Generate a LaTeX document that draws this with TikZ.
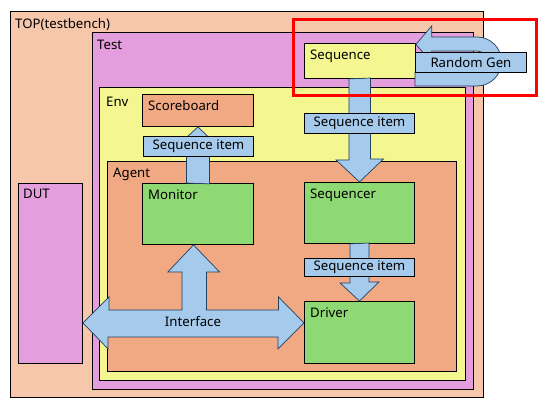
\documentclass[tikz,border=0pt]{standalone}
\usepackage{fontspec}
\setmainfont{Noto Sans}
\usepackage{xcolor}
\usepackage{tikz}
\usetikzlibrary{positioning, calc}

\definecolor{topc}{HTML}{F7C7AC}
\definecolor{testc}{HTML}{E49EDD}
\definecolor{envc}{HTML}{F4F68F}
\definecolor{agentc}{HTML}{F1A983}
\definecolor{greenc}{HTML}{8ED973}
\definecolor{itemc}{HTML}{A6CAEC}
\definecolor{arrowc}{HTML}{23405E}

\begin{document}
\begin{tikzpicture}[x=1pt, y=-1pt,
  box/.style={draw, line width=0.9pt, anchor=north west, inner sep=0pt},
  lbl/.style={anchor=north west, inner sep=0pt, text height=9pt,
              font=\fontsize{13.2}{15}\selectfont},
  item/.style={draw, line width=0.9pt, fill=itemc, anchor=north west, inner sep=0pt,
               minimum width=110pt, minimum height=20pt,
               font=\fontsize{13.2}{15}\selectfont},
  blk/.style={draw=arrowc, fill=itemc, line width=0.7pt, line join=miter},
]
  \useasboundingbox (0,0) rectangle (545,406);

  % Nested frames
  \node[box, fill=topc, minimum width=473pt, minimum height=386pt] (top) at (10,11) {};
  \node[lbl, below right=8pt and 5pt of top.north west] (topl) {TOP(testbench)};
  \node[box, fill=testc, minimum width=64pt, minimum height=180pt] (dut) at (18,183) {};
  \node[lbl, below right=6pt and 5pt of dut.north west] (dutl) {DUT};
  \node[box, fill=testc, minimum width=381pt, minimum height=357pt] (test) at (92,32) {};
  \node[lbl, below right=8pt and 5pt of test.north west] (testl) {Test};
  \node[box, fill=envc, minimum width=366pt, minimum height=293pt] (env) at (99,87) {};
  \node[lbl, below right=10pt and 7pt of env.north west] (envl) {Env};
  \node[box, fill=agentc, minimum width=349pt, minimum height=210pt] (agent) at (107,161) {};
  \node[lbl, below right=7pt and 6pt of agent.north west] (agentl) {Agent};

  % Components
  \node[box, fill=agentc, minimum width=111pt, minimum height=32pt] (sb) at (142,94) {};
  \node[lbl, below right=7pt and 6pt of sb.north west] (sbl) {Scoreboard};
  \node[box, fill=greenc, minimum width=111pt, minimum height=61pt] (mon) at (142,183) {};
  \node[lbl, below right=7pt and 6pt of mon.north west] (monl) {Monitor};
  \node[box, fill=envc, minimum width=111pt, minimum height=35pt] (seq) at (304,43) {};
  \node[lbl, below right=7pt and 6pt of seq.north west] (seql) {Sequence};
  \node[box, fill=greenc, minimum width=110pt, minimum height=61pt] (sqr) at (304,182) {};
  \node[lbl, below right=7pt and 6pt of sqr.north west] (sqrl) {Sequencer};
  \node[box, fill=greenc, minimum width=110pt, minimum height=62pt] (drv) at (304,301) {};
  \node[lbl, below right=7pt and 6pt of drv.north west] (drvl) {Driver};

  % Block arrows
  \draw[blk] ($(seq.south)+(-11,0)$) -- ++(0,81) -- ++(-13,0) -- (sqr.north)
    -- ++(24,-23) -- ++(-13,0) -- ++(0,-81) -- cycle;
  \draw[blk] ($(sqr.south)+(-9.5,0)$) -- ++(0,39) -- ++(-10,0) -- (drv.north)
    -- ++(19.5,-19) -- ++(-10,0) -- ++(0,-39) -- cycle;
  \draw[blk] ($(mon.north)+(-11.5,0)$) -- ++(0,-34) -- ++(-12.5,0) -- (sb.south)
    -- ++(24,23) -- ++(-12.5,0) -- ++(0,34) -- cycle;

  % Interface
  \coordinate (ifl) at ($(dut.south east)+(0,-41)$);
  \coordinate (ifr) at ($(drv.south west)+(0,-41)$);
  \draw[blk] (ifl) -- ++(26,-26) -- ++(0,13) -- ++(73,0) -- ++(0,-38) -- ++(-14,0)
    -- ($(mon.south)+(-4.5,0)$) -- ++(26,27) -- ++(-13,0) -- ++(0,38) -- ++(72,0)
    -- ++(0,-13) -- (ifr) -- ++(-26,26) -- ++(0,-12) -- ++(-170,0) -- ++(0,12) -- cycle;
  \node[font=\fontsize{13.2}{15}\selectfont, inner sep=0pt] (ifll) at (193,322) {Interface};

  % Random generator loop
  \coordinate (rgtip) at ($(seq.east)+(0,-16.5)$);
  \draw[blk] (415,72) -- (477,72) arc[start angle=-90, end angle=90, radius=10.5pt]
    -- (431.7,51) -- (431.7,62) -- (rgtip) -- (431.7,26) -- (431.7,37)
    -- (477,37) arc[start angle=90, end angle=-90, radius=24.5pt] -- (415,86) -- cycle;
  \node[item, minimum width=111pt] (rg) at (415,52) {Random Gen};

  % Sequence items
  \node[item] (si1) at (143,136) {Sequence item};
  \node[item] (si2) at (304,113) {Sequence item};
  \node[item, minimum height=18pt] (si3) at (304,258) {Sequence item};

  % Highlight
  \draw[red, line width=3pt] (293,20) rectangle (536,96);
\end{tikzpicture}
\end{document}
